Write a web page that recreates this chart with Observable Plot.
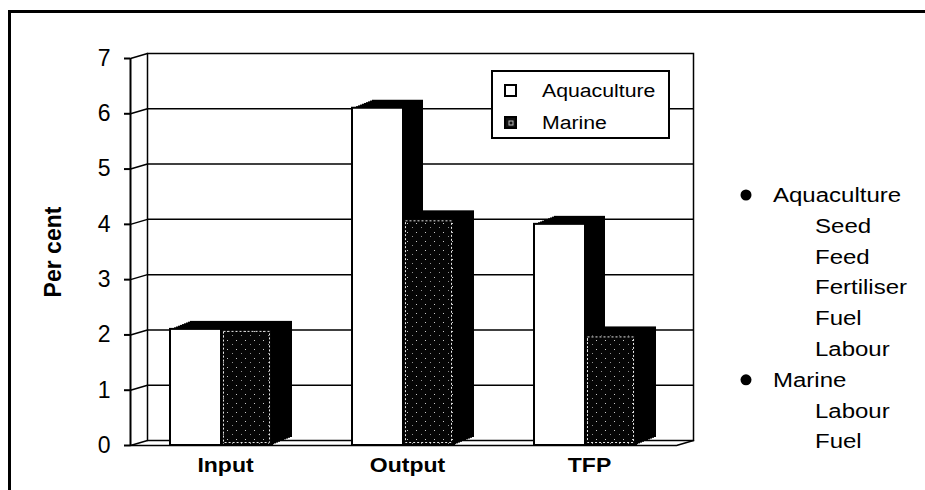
<!DOCTYPE html>
<html><head><meta charset="utf-8">
<script src="https://cdn.jsdelivr.net/npm/d3@7"></script>
<script src="https://cdn.jsdelivr.net/npm/@observablehq/plot@0.6"></script>
<style>
body{margin:0;background:#fff;}
#wrap{position:relative;width:925px;height:490px;overflow:hidden;background:#fff;}
#frame{position:absolute;left:8px;top:10px;width:960px;height:520px;border-top:3px solid #000;border-left:3px solid #000;}
#chart{position:absolute;left:0;top:0;}
</style></head><body>
<div id="wrap"><div id="frame"></div><div id="chart"></div></div>
<script>
const categories = ["Input", "Output", "TFP"];
const series = ["Aquaculture", "Marine"];
const aquacultureValues = [2.1, 6.1, 4.0];
const marineValues = [2.1, 4.1, 2.0];
const yTicks = [0, 1, 2, 3, 4, 5, 6, 7];
const yLabel = "Per cent";
const listGroups = ["Aquaculture", "Marine"];
const aquacultureInputs = ["Seed", "Feed", "Fertiliser", "Fuel", "Labour"];
const marineInputs = ["Labour", "Fuel"];

const aquaData = categories.map((c, i) => ({category: c, series: series[0], value: aquacultureValues[i]}));
const marineData = categories.map((c, i) => ({category: c, series: series[1], value: marineValues[i]}));

const FX = -17, FY = 5;   // front plane offset
const DX = 20, DY = -8;   // bar depth
const steps = d3.range(10, -1, -1).map(k => k / 10);
const FONT = "Liberation Sans, Arial, Helvetica, sans-serif";

function barMarks(data, insL, insR, frontFill, marine) {
  const ms = steps.map(t => Plot.rectY(data, {
    x: "category", y: "value", insetLeft: insL, insetRight: insR,
    dx: FX + DX * t, dy: FY + DY * t, fill: "black"
  }));
  ms.push(Plot.rectY(data, {
    x: "category", y: "value", insetLeft: insL, insetRight: insR,
    dx: FX, dy: FY, fill: frontFill, stroke: "black", strokeWidth: 2
  }));
  if (marine) {
    ms.push(Plot.rectY(data, {
      x: "category", y: "value", insetLeft: insL + 2.5, insetRight: insR + 2.5, insetTop: 2.5, insetBottom: 2.5,
      dx: FX, dy: FY, fill: "none", stroke: "#e8e8e8", strokeWidth: 1, strokeDasharray: "2,2"
    }));
  }
  return ms;
}

const lineShape = {draw(ctx, l) { ctx.moveTo(0, 0); ctx.lineTo(0, -l); }};
const slantAngle = Math.atan2(FX, -FY) * 180 / Math.PI;
const slantLen = Math.hypot(FX, FY);

const defsMark = () => {
  const defs = d3.create("svg:defs");
  const p = defs.append("pattern").attr("id", "speckle").attr("patternUnits", "userSpaceOnUse")
    .attr("width", 9).attr("height", 9);
  p.append("rect").attr("width", 9).attr("height", 9).attr("fill", "#050505");
  p.append("rect").attr("x", 1).attr("y", 2).attr("width", 1).attr("height", 1).attr("fill", "#c8c8c8");
  p.append("rect").attr("x", 6).attr("y", 6).attr("width", 1).attr("height", 1).attr("fill", "#909090");
  return defs.node();
};

const legendMark = () => {
  const g = d3.create("svg:g").attr("font-family", FONT).attr("text-anchor", "start");
  g.append("rect").attr("x", 492).attr("y", 71).attr("width", 177).attr("height", 67)
    .attr("fill", "white").attr("stroke", "black").attr("stroke-width", 2);
  series.forEach((s, i) => {
    const cy = 91 + i * 32;
    g.append("rect").attr("x", 505).attr("y", cy - 6).attr("width", 11).attr("height", 11)
      .attr("fill", i ? "#111" : "white").attr("stroke", "black").attr("stroke-width", 2);
    if (i) g.append("rect").attr("x", 509).attr("y", cy - 2).attr("width", 4).attr("height", 4)
      .attr("fill", "none").attr("stroke", "#bbb").attr("stroke-width", 1);
    g.append("text").attr("data-stretch", 1.18).attr("x", 542).attr("y", cy).attr("dy", "0.35em")
      .attr("font-size", 18).attr("fill", "black").text(s);
  });
  return g.node();
};

const listMark = () => {
  const g = d3.create("svg:g").attr("font-family", FONT).attr("font-size", 20)
    .attr("fill", "black").attr("text-anchor", "start");
  const groups = [aquacultureInputs, marineInputs];
  let y = 195;
  listGroups.forEach((name, gi) => {
    g.append("circle").attr("cx", 746).attr("cy", y).attr("r", 5.5).attr("fill", "black");
    g.append("text").attr("data-stretch", 1.2).attr("x", 773).attr("y", y).attr("dy", "0.35em").text(name);
    y += 30.8;
    groups[gi].forEach(item => {
      g.append("text").attr("data-stretch", 1.2).attr("x", 815).attr("y", y).attr("dy", "0.35em").text(item);
      y += 30.8;
    });
  });
  return g.node();
};

const plot = Plot.plot({
  width: 925, height: 490,
  marginLeft: 147, marginRight: 232, marginTop: 53, marginBottom: 50,
  x: {domain: categories, padding: 0, label: null, axis: null},
  y: {domain: [0, 7], label: null, axis: null},
  style: {fontFamily: FONT, fontSize: "17px", color: "black", background: "transparent", overflow: "visible"},
  marks: [
    defsMark,
    Plot.ruleY(yTicks.slice(1, -1), {stroke: "black", strokeWidth: 1.5}),
    Plot.frame({stroke: "black", strokeWidth: 1.5}),
    Plot.ruleY([0], {dx: FX, dy: FY, stroke: "black", strokeWidth: 1.5}),
    Plot.ruleX([categories[0]], {y1: 0, y2: 7, dx: FX - 91, dy: FY, stroke: "black", strokeWidth: 2}),
    Plot.vector(yTicks, {y: d => d, frameAnchor: "left", rotate: slantAngle, length: slantLen, anchor: "start",
      shape: lineShape, stroke: "black", strokeWidth: 1.5}),
    Plot.vector([0], {y: d => d, frameAnchor: "right", rotate: slantAngle, length: slantLen, anchor: "start",
      shape: lineShape, stroke: "black", strokeWidth: 1.5}),
    Plot.axisY(yTicks, {dx: FX, dy: FY, tickSize: 6, tickPadding: 14, tickFormat: "d", label: null,
      fontSize: 23, strokeWidth: 2}),
    Plot.axisX({tickSize: 0, tickPadding: 17, dx: -13, fontWeight: "bold", fontSize: 20, label: null}),
    Plot.text([yLabel], {frameAnchor: "left", textAnchor: "middle", lineAnchor: "middle", rotate: -90, dx: -94, dy: 5,
      fontWeight: "bold", fontSize: 23}),
    ...barMarks(aquaData, 40, 91, "white", false),
    ...barMarks(marineData, 91, 40, "url(#speckle)", true),
    legendMark,
    listMark
  ]
});
document.getElementById("chart").appendChild(plot);
function stretch(t, f) {
  const w = t.getComputedTextLength();
  if (w > 0) { t.setAttribute("textLength", (w * f).toFixed(1)); t.setAttribute("lengthAdjust", "spacingAndGlyphs"); }
}
plot.querySelectorAll("text[data-stretch]").forEach(t => stretch(t, +t.getAttribute("data-stretch")));
plot.querySelectorAll('[aria-label="x-axis tick label"] text').forEach(t => stretch(t, 1.15));
</script>
</body></html>
